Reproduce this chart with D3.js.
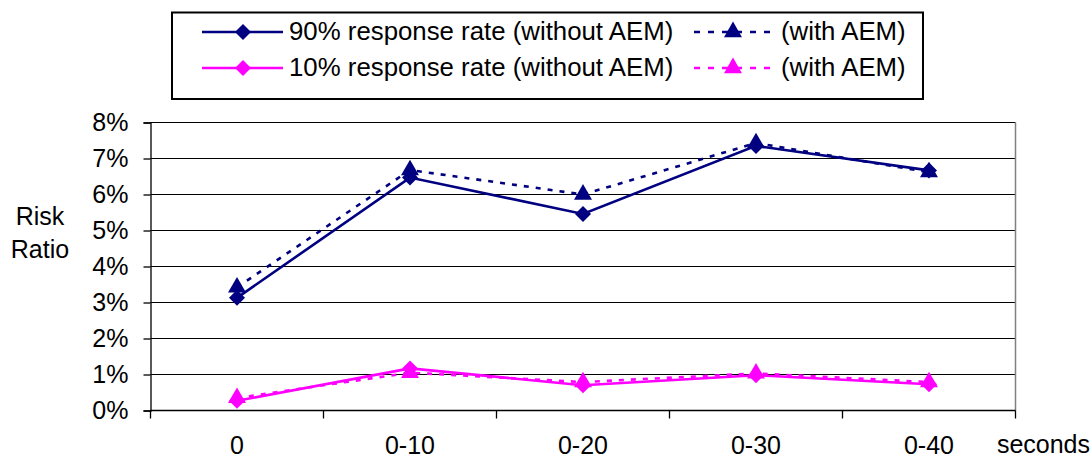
<!DOCTYPE html>
<html><head><meta charset="utf-8">
<script src="https://cdn.jsdelivr.net/npm/d3@7"></script>
<style>body{margin:0;background:#fff}svg{display:block}text{font-family:"Liberation Sans",Arial,sans-serif;fill:#000}</style>
</head><body><svg id="c" width="1091" height="459"></svg>
<script>
const categories = ["0","0-10","0-20","0-30","0-40"];
const s90without = [3.13, 6.47, 5.46, 7.35, 6.67];
const s90with    = [3.42, 6.68, 6.00, 7.43, 6.62];
const s10without = [0.27, 1.17, 0.70, 0.98, 0.73];
const s10with    = [0.35, 1.05, 0.79, 1.03, 0.79];
const yTicks = [0,1,2,3,4,5,6,7,8];
const legendLabels = ["90% response rate (without AEM)","(with AEM)","10% response rate (without AEM)","(with AEM)"];
const axisTitleY = ["Risk","Ratio"];
const axisTitleX = "seconds";

const navy = "#000080", magenta = "#FF00FF";
const svg = d3.select("#c");
const L = 150.5, R = 1015.5, T = 122.5, B = 410.5;
const x = d3.scaleBand().domain(categories).range([L, R]);
const y = d3.scaleLinear().domain([0, 8]).range([B, T]);

// gridlines
svg.append("g").selectAll("line").data(yTicks.filter(d=>d>0)).join("line")
  .attr("x1", L).attr("x2", R).attr("y1", d=>y(d)).attr("y2", d=>y(d))
  .attr("stroke", "#000").attr("stroke-width", 1.2);
// right border
svg.append("line").attr("x1", R).attr("x2", R).attr("y1", T).attr("y2", B)
  .attr("stroke", "#808080").attr("stroke-width", 1.5);

// y axis
const ya = svg.append("g").attr("transform", `translate(${L},0)`)
  .call(d3.axisLeft(y).tickValues(yTicks).tickFormat(d=>d+"%").tickSize(7).tickPadding(15));
ya.select(".domain").attr("stroke","#000").attr("stroke-width",1.3);
ya.selectAll(".tick line").attr("stroke","#000").attr("stroke-width",1.3);
ya.selectAll("text").style("font-size","25px").attr("font-family",null).attr("dy","0.33em");

// x axis (ticks at band boundaries)
const xa = svg.append("g").attr("transform", `translate(0,${B})`);
xa.append("line").attr("x1", L).attr("x2", R).attr("stroke","#000").attr("stroke-width",1.3);
const bounds = categories.map(c=>x(c)).concat([R]);
xa.selectAll(".bt").data(bounds).join("line").attr("class","bt")
  .attr("x1", d=>d).attr("x2", d=>d).attr("y1",0).attr("y2",8)
  .attr("stroke","#000").attr("stroke-width",1.3);
xa.selectAll(".lbl").data(categories).join("text").attr("class","lbl")
  .attr("x", d=>x(d)+x.bandwidth()/2).attr("y", 43).attr("text-anchor","middle")
  .style("font-size","25px").text(d=>d);
svg.append("text").attr("x", 1090).attr("y", 453).attr("text-anchor","end")
  .style("font-size","25px").text(axisTitleX);
svg.append("text").attr("text-anchor","middle").style("font-size","25px")
  .selectAll("tspan").data(axisTitleY).join("tspan")
  .attr("x", 40).attr("y", (d,i)=>225+i*33).text(d=>d);

// series
const series = [
  {vals:s90with, color:navy, dash:"5,7", marker:"tri"},
  {vals:s90without, color:navy, dash:null, marker:"dia"},
  {vals:s10with, color:magenta, dash:"5,7", marker:"tri"},
  {vals:s10without, color:magenta, dash:null, marker:"dia"},
];
const line = d3.line().x((d,i)=>x(categories[i])+x.bandwidth()/2).y(d=>y(d));
const triPath = d3.symbol(d3.symbolTriangle, 140)();
const diaPath = "M0,-8L8,0L0,8L-8,0Z";
function marker(g, type, color){
  g.append("path").attr("d", type==="tri" ? triPath : diaPath).attr("fill", color);
}
series.forEach(s=>{
  svg.append("path").datum(s.vals).attr("d", line).attr("fill","none")
    .attr("stroke", s.color).attr("stroke-width", 2.6)
    .attr("stroke-dasharray", s.dash);
});
series.forEach(s=>{
  s.vals.forEach((v,i)=>{
    const g = svg.append("g").attr("transform", `translate(${x(categories[i])+x.bandwidth()/2},${y(v)})`);
    marker(g, s.marker, s.color);
  });
});

// legend
svg.append("rect").attr("x",172).attr("y",12.5).attr("width",751).attr("height",86.5)
  .attr("fill","#fff").attr("stroke","#000").attr("stroke-width",2);
const legRows = [
  {y:32, color:navy},
  {y:68, color:magenta}
];
legRows.forEach((r,i)=>{
  const lg = svg.append("g");
  lg.append("line").attr("x1",202).attr("x2",283).attr("y1",r.y).attr("y2",r.y)
    .attr("stroke",r.color).attr("stroke-width",2.6);
  marker(lg.append("g").attr("transform",`translate(243,${r.y})`),"dia",r.color);
  lg.append("text").attr("x",289).attr("y",r.y+8).style("font-size","25.8px").text(legendLabels[i*2]);
  lg.append("line").attr("x1",694).attr("x2",775).attr("y1",r.y).attr("y2",r.y)
    .attr("stroke",r.color).attr("stroke-width",2.6).attr("stroke-dasharray","6,8");
  marker(lg.append("g").attr("transform",`translate(733,${r.y})`),"tri",r.color);
  lg.append("text").attr("x",781).attr("y",r.y+8).style("font-size","25.8px").text(legendLabels[i*2+1]);
});
</script></body></html>
